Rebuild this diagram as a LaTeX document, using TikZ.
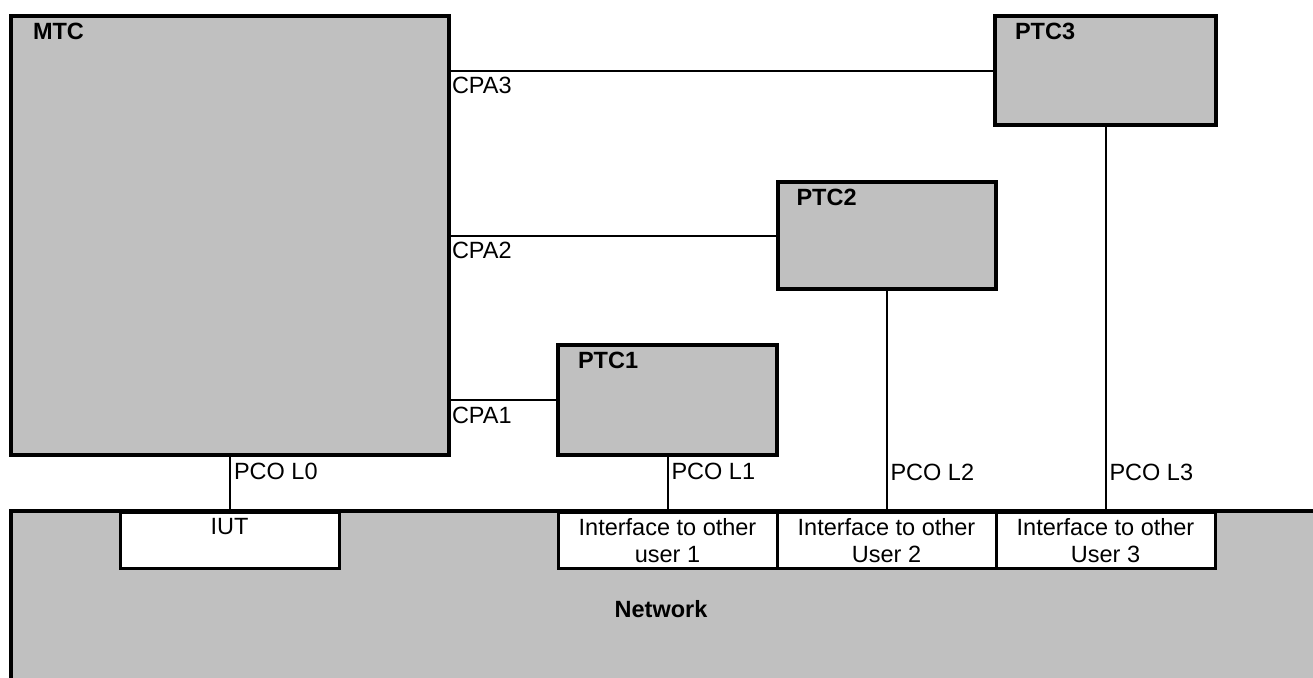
\documentclass[tikz,border=0pt]{standalone}
\usepackage{fontspec}
\setmainfont{Liberation Sans}
\usetikzlibrary{calc}
\definecolor{boxgray}{HTML}{C0C0C0}
\begin{document}
\begin{tikzpicture}[x=1pt,y=-1pt,
  tcbox/.style={draw=black, line width=4pt, fill=boxgray, outer sep=0pt, inner sep=0pt},
  ifbox/.style={draw=black, line width=3pt, fill=white, outer sep=0pt, inner sep=0pt, minimum width=219pt, minimum height=56pt},
  conn/.style={draw=black, line width=2pt},
  lbl/.style={inner sep=0pt, outer sep=0pt, font=\fontsize{23.5}{27}\selectfont},
  blbl/.style={lbl, font=\fontsize{23.5}{27}\selectfont\bfseries},
  mlbl/.style={lbl, align=center, anchor=north}]
\useasboundingbox (0,0) rectangle (1313,677);
% network
\fill[boxgray] (11,511) rectangle (1320,690);
\draw[line width=4pt] (1320,511) -- (11,511) -- (11,690);
\node[blbl, anchor=base] (net) at (661,617) {Network};
% interface boxes
\node[ifbox] (iut) at (229.5,540) {};
\node[ifbox] (if1) at (667.5,540) {};
\node[ifbox] (if2) at (886.5,540) {};
\node[ifbox] (if3) at (1105.5,540) {};
\node[mlbl] (iutt) at ($(iut.north)+(0,6)$) {IUT};
\node[mlbl] (if1t) at ($(if1.north)+(0,6)$) {Interface to other\\user 1};
\node[mlbl] (if2t) at ($(if2.north)+(0,6)$) {Interface to other\\User 2};
\node[mlbl] (if3t) at ($(if3.north)+(0,6)$) {Interface to other\\User 3};
% test components
\node[tcbox, minimum width=438pt, minimum height=439pt] (mtc) at (230,235.5) {};
\node[tcbox, minimum width=221pt, minimum height=109pt] (ptc3) at (1105.5,70.5) {};
\node[tcbox, minimum width=218pt, minimum height=107pt] (ptc2) at (886.5,235.5) {};
\node[tcbox, minimum width=219pt, minimum height=110pt] (ptc1) at (667.5,400) {};
\node[blbl, anchor=base west] (mtct) at ($(mtc.north west)+(22,24)$) {MTC};
\node[blbl, anchor=base west] (ptc3t) at ($(ptc3.north west)+(20,24)$) {PTC3};
\node[blbl, anchor=base west] (ptc2t) at ($(ptc2.north west)+(19,23)$) {PTC2};
\node[blbl, anchor=base west] (ptc1t) at ($(ptc1.north west)+(20,23)$) {PTC1};
% CPA connectors
\draw[conn] (ptc3.west) -- (ptc3.west -| mtc.east);
\draw[conn] (ptc2.west) -- (ptc2.west -| mtc.east);
\draw[conn] (ptc1.west) -- (ptc1.west -| mtc.east);
\node[lbl, anchor=base west] (cpa3) at ($(ptc3.west -| mtc.east)+(3,23)$) {CPA3};
\node[lbl, anchor=base west] (cpa2) at ($(ptc2.west -| mtc.east)+(3,23)$) {CPA2};
\node[lbl, anchor=base west] (cpa1) at ($(ptc1.west -| mtc.east)+(3,23)$) {CPA1};
% PCO connectors
\draw[conn] (mtc.south) -- (mtc.south |- iut.north);
\draw[conn] (ptc1.south) -- (ptc1.south |- if1.north);
\draw[conn] (ptc2.south) -- (ptc2.south |- if2.north);
\draw[conn] (ptc3.south) -- (ptc3.south |- if3.north);
\node[lbl, anchor=base west] (pco0) at ($(mtc.south)+(4,24)$) {PCO L0};
\node[lbl, anchor=base west] (pco1) at ($(ptc1.south |- mtc.south)+(4,24)$) {PCO L1};
\node[lbl, anchor=base west] (pco2) at ($(ptc2.south |- mtc.south)+(4,25)$) {PCO L2};
\node[lbl, anchor=base west] (pco3) at ($(ptc3.south |- mtc.south)+(4,25)$) {PCO L3};
\end{tikzpicture}
\end{document}
